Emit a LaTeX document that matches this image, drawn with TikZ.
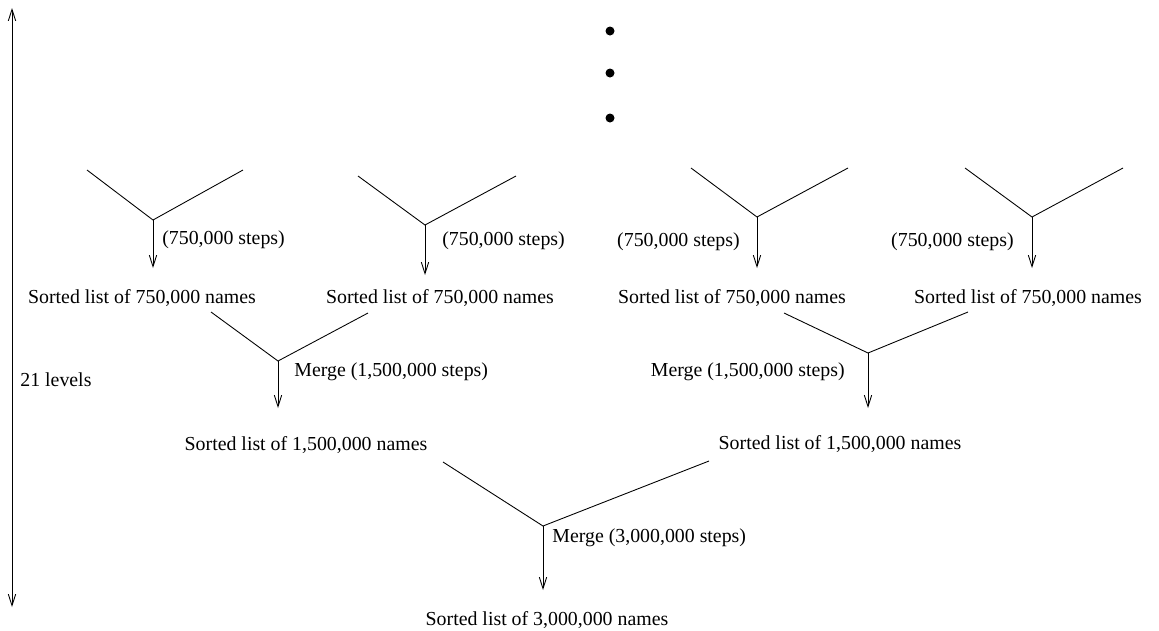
\documentclass[tikz,border=0pt]{standalone}
\usepackage{fontspec}
\setmainfont{Liberation Serif}
\usetikzlibrary{arrows.meta}

\begin{document}
\begin{tikzpicture}[
		x=0.02cm, y=-0.02cm,
		label/.style={inner sep=0pt, font=\fontsize{11.3}{13}\selectfont},
		branch/.style={line width=0.5pt},
		arrow/.style={line width=0.5pt, -{Straight Barb[length=6.5pt, width=4.2pt]}},
		span/.style={line width=0.5pt, {Straight Barb[length=6.5pt, width=4.2pt]}-{Straight Barb[length=6.5pt, width=4.2pt]}}
	]
		\useasboundingbox (0,0) rectangle (1159,630);

		% Dots
		\fill (610,31) circle (0.09cm);
		\fill (610,73) circle (0.09cm);
		\fill (610,118) circle (0.09cm);

		% Levels
		\coordinate (top) at (12,8);
		\coordinate (bottom) at (12,607);
		\draw[span] (top) -- (bottom);
		\node[label, anchor=west] (levels) at (20,380) {21 levels};

		% Lists
		\node[label] (sorta) at (142,298) {Sorted list of 750,000 names};
		\node[label] (sortb) at (440,298) {Sorted list of 750,000 names};
		\node[label] (sortc) at (732,298) {Sorted list of 750,000 names};
		\node[label] (sortd) at (1028,298) {Sorted list of 750,000 names};
		\node[label] (halfa) at (306,445) {Sorted list of 1,500,000 names};
		\node[label] (halfb) at (840,444) {Sorted list of 1,500,000 names};
		\node[label] (full) at (547,620) {Sorted list of 3,000,000 names};

		% Top merges
		\coordinate (al) at (87,170);  \coordinate (av) at (153,220); \coordinate (ar) at (243,170); \coordinate (at) at (153,268);
		\coordinate (bl) at (358,176); \coordinate (bv) at (425,225); \coordinate (br) at (516,176); \coordinate (bt) at (425,275);
		\coordinate (cl) at (691,168); \coordinate (cv) at (757,217); \coordinate (cr) at (848,168); \coordinate (ct) at (757,268);
		\coordinate (dl) at (965,168); \coordinate (dv) at (1032,217); \coordinate (dr) at (1123,168); \coordinate (dt) at (1032,268);
		\draw[branch] (al) -- (av) -- (ar);
		\draw[branch] (bl) -- (bv) -- (br);
		\draw[branch] (cl) -- (cv) -- (cr);
		\draw[branch] (dl) -- (dv) -- (dr);
		\draw[arrow] (av) -- (at);
		\draw[arrow] (bv) -- (bt);
		\draw[arrow] (cv) -- (ct);
		\draw[arrow] (dv) -- (dt);
		\node[label, anchor=west] (stepa) at (162,240) {(750,000 steps)};
		\node[label, anchor=west] (stepb) at (442,241) {(750,000 steps)};
		\node[label, anchor=east] (stepc) at (740,242) {(750,000 steps)};
		\node[label, anchor=east] (stepd) at (1014,242) {(750,000 steps)};

		% Middle merges
		\coordinate (el) at (211,312); \coordinate (ev) at (278,361); \coordinate (er) at (368,313); \coordinate (et) at (278,408);
		\coordinate (fl) at (784,313); \coordinate (fv) at (868,353); \coordinate (fr) at (968,312); \coordinate (ft) at (868,408);
		\draw[branch] (el) -- (ev) -- (er);
		\draw[branch] (fl) -- (fv) -- (fr);
		\draw[arrow] (ev) -- (et);
		\draw[arrow] (fv) -- (ft);
		\node[label, anchor=west] (mergee) at (294,372) {Merge (1,500,000 steps)};
		\node[label, anchor=east] (mergef) at (845,372) {Merge (1,500,000 steps)};

		% Final merge
		\coordinate (gl) at (443,462); \coordinate (gv) at (543,526); \coordinate (gr) at (709,461); \coordinate (gt) at (543,590);
		\draw[branch] (gl) -- (gv) -- (gr);
		\draw[arrow] (gv) -- (gt);
		\node[label, anchor=west] (mergeg) at (552,538) {Merge (3,000,000 steps)};
	\end{tikzpicture}
\end{document}
